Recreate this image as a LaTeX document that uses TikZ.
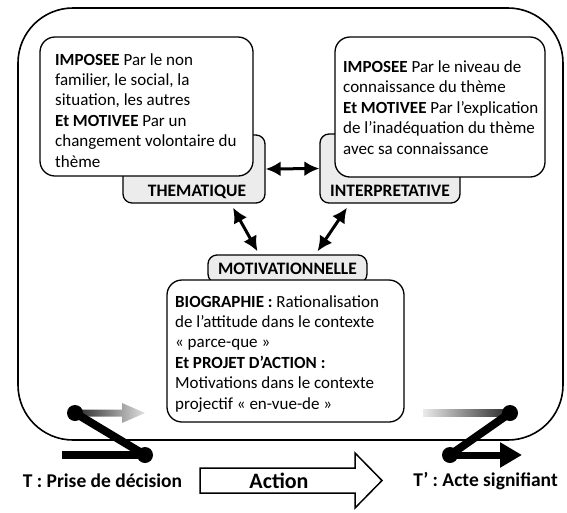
\documentclass[tikz,border=0pt]{standalone}
\usepackage{fontspec}
\setmainfont{Carlito}
\usetikzlibrary{arrows.meta}
\definecolor{tabgray}{RGB}{236,236,236}

\begin{document}
\begin{tikzpicture}[x=1pt,y=-1pt,
    box/.style={draw=black, line width=1.3pt, rounded corners=15pt, fill=white},
    tab/.style={draw=black, line width=1.3pt, rounded corners=9pt, fill=tabgray},
    txt/.style={anchor=north west, inner sep=0pt, align=left, font=\fontsize{17}{20.4}\selectfont},
    tablbl/.style={anchor=base, font=\fontsize{17.5}{20}\selectfont\bfseries},
    dbl/.style={{Latex[length=15pt,width=15pt]}-{Latex[length=15pt,width=15pt]}, line width=3pt},
    bar/.style={line width=8pt},
    lbl/.style={font=\fontsize{19.5}{22}\selectfont\bfseries}
]
\useasboundingbox (0,0) rectangle (567,512);
\draw[line width=1.6pt, rounded corners=55pt] (18,8) rectangle (563,440);

\node[tab, minimum width=142pt, minimum height=68pt,
    label={[tablbl, xshift=3pt, yshift=7pt]south:THEMATIQUE}] (themtab) at (194,169) {};
\node[box, minimum width=213pt, minimum height=139pt] (thembox) at (146.5,106.5) {};
\node[txt] (themtxt) at (55,53) {\textbf{IMPOSEE} Par le non\\
    familier, le social, la\\
    situation, les autres\\
    \textbf{Et MOTIVEE} Par un\\
    changement volontaire du\\
    thème};

\node[tab, minimum width=140pt, minimum height=69pt,
    label={[tablbl, yshift=7pt]south:INTERPRETATIVE}] (interptab) at (390,168.5) {};
\node[box, minimum width=210pt, minimum height=140pt] (interpbox) at (440,107) {};
\node[txt] (interptxt) at (343,60.5) {\textbf{IMPOSEE} Par le niveau de\\
    connaissance du thème\\
    \textbf{Et MOTIVEE} Par l’explication\\
    de l’inadéquation du thème\\
    avec sa connaissance};

\node[tab, minimum width=159pt, minimum height=28pt,
    font=\fontsize{17.5}{20}\selectfont\bfseries] (motivtab) at (287.5,269) {MOTIVATIONNELLE};
\node[box, minimum width=237pt, minimum height=142pt] (motivbox) at (285.5,351) {};
\node[txt] (motivtxt) at (175,295) {\textbf{BIOGRAPHIE :} Rationalisation\\
    de l’attitude dans le contexte\\
    «~parce-que~»\\
    \textbf{Et PROJET D’ACTION :}\\
    Motivations dans le contexte\\
    projectif «~en-vue-de~»};

\draw[dbl] (themtab.east) -- (interptab.west);
\draw[dbl] ([xshift=39pt,yshift=-4pt]themtab.south) -- ([xshift=-30pt,yshift=3pt]motivtab.north);
\draw[dbl] ([xshift=-43pt,yshift=-4pt]interptab.south) -- ([xshift=30pt,yshift=3pt]motivtab.north);

\coordinate (dec0) at (75,413);
\coordinate (dec1) at (145,455);
\coordinate (bar0) at (62,455);
\shade[left color=black!85, right color=black!12] (75,409.5) -- (122,409.5) -- (122,403)
    -- (145,413) -- (122,423) -- (122,416.5) -- (75,416.5) -- cycle;
\draw[bar] (bar0) -- (dec1);
\draw[bar] (dec0) -- (dec1);
\fill (dec0) circle (8pt);
\fill (dec1) circle (8pt);

\coordinate (act0) at (510,413);
\coordinate (act1) at (450,455);
\coordinate (act2) at (522,455);
\shade[left color=black!8, right color=black!85] (423,409.5) rectangle (510,416.5);
\draw[bar] (act0) -- (act1);
\draw[line width=7pt, -{Triangle[length=22pt,width=24pt]}] (act1) -- (act2);
\fill (act0) circle (8pt);
\fill (act1) circle (8pt);

\draw[line width=1.5pt] (200,468) -- (355,468) -- (355,453) -- (382,480.5) -- (355,508)
    -- (355,493) -- (200,493) -- cycle;
\node[font=\fontsize{22}{24}\selectfont\bfseries] (action) at (279,481) {Action};
\node[lbl] (tdec) at (102.5,481) {T : Prise de décision};
\node[lbl] (tact) at (485.5,481) {T’ : Acte signifiant};
\end{tikzpicture}
\end{document}
